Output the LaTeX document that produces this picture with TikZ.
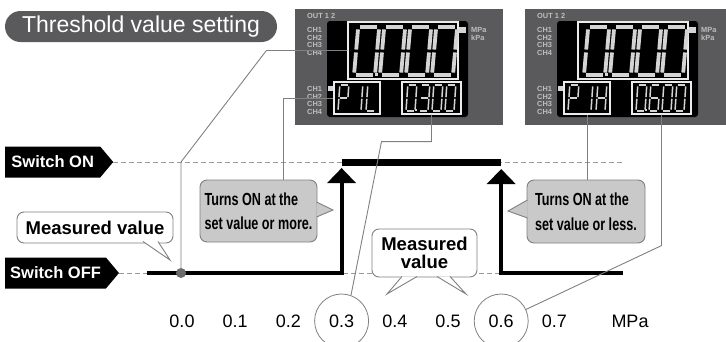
\documentclass[tikz,border=0pt]{standalone}
\usepackage{fontspec}
\setmainfont{Liberation Sans}
\newfontfamily\narrowfont[FakeStretch=0.72]{Liberation Sans}
\usetikzlibrary{arrows.meta,shapes.symbols}
\definecolor{panelgray}{HTML}{5A5A5C}
\definecolor{chgray}{HTML}{BEBEBE}
\definecolor{leadgray}{HTML}{808080}
\definecolor{boxgray}{HTML}{C9C9C9}
\definecolor{seggray}{HTML}{D4D4D4}
\tikzset{
  titlebox/.style  = {fill=panelgray,text=white,font=\fontsize{23}{27}\selectfont,
                      minimum width=272,minimum height=31,rounded corners=15.5,inner sep=0},
  swtag/.style     = {signal,signal to=east,signal pointer angle=100,fill=black,text=white,
                      font=\fontsize{16.5}{18}\selectfont\bfseries,minimum height=31,minimum width=108,inner xsep=5},
  level/.style     = {gray!80,dash pattern=on 5pt off 3pt,line width=0.8},
  sigline/.style   = {line width=4,line cap=butt,line join=miter},
  sigarr/.style    = {sigline,-{Triangle[length=15pt,width=28pt]}},
  lead/.style      = {leadgray,line width=0.9},
  callline/.style  = {draw=leadgray,line width=0.9},
  callw/.style     = {callline,fill=white,rounded corners=7,inner sep=0,align=center,
                      font=\fontsize{18.5}{17.5}\selectfont\bfseries},
  callg/.style     = {callline,fill=boxgray,rounded corners=7,inner sep=0,align=left,
                      font=\narrowfont\bfseries\fontsize{17.5}{24.5}\selectfont},
  ticklab/.style   = {font=\fontsize{18}{20}\selectfont,inner sep=0},
  tickring/.style  = {ticklab,circle,draw=leadgray,line width=0.8,minimum size=54},
  lcdbox/.style    = {draw=white!92!black,line width=1.2,inner sep=0},
  chlab/.style     = {text=chgray,font=\fontsize{7.4}{7.5}\selectfont\bfseries,inner sep=0,anchor=west},
  segstroke/.style = {seggray,line width=#1,line cap=butt},
  dot/.style       = {circle,fill=gray!85!black,minimum size=10,inner sep=0}
}
\newcommand{\sega}{0.09,0,0.91,0}
\newcommand{\segb}{1,0.05,1,0.47}
\newcommand{\segc}{1,0.53,1,0.95}
\newcommand{\segd}{0.09,1,0.91,1}
\newcommand{\sege}{0,0.53,0,0.95}
\newcommand{\segf}{0,0.05,0,0.47}
\newcommand{\segg}{0.09,0.5,0.91,0.5}
\newcommand{\drawseg}{}
\def\drawseg#1,#2,#3,#4\relax#5{\draw[segstroke=#5] ({#1+0.2*(1-#2)},#2) -- ({#3+0.2*(1-#4)},#4);}
\newcommand{\lcddigit}[6]{%
  \begin{scope}[shift={(#1,#2)},xscale=#3,yscale=#4]
    \foreach \s in {#6}{%
      \edef\segcoords{\csname seg\s\endcsname}%
      \expandafter\drawseg\segcoords\relax{#5}}
  \end{scope}}
\newcommand{\lcdpanel}[4]{%
  \begin{scope}[xshift=#2]
    \fill[panelgray] (295,9) rectangle (503,125);
    \fill[black,rounded corners=3] (327,21) rectangle (468,117);
    \node[lcdbox,minimum width=110,minimum height=57] (#1up)  at (403,50.5) {};
    \node[lcdbox,minimum width=46,minimum height=32]  (#1lo)  at (357,98) {};
    \node[lcdbox,minimum width=59,minimum height=32]  (#1val) at (431.5,98) {};
    \fill[seggray] (459,27) rectangle (466,33);
    \fill[seggray] (328,86) rectangle (333,91);
    \node[chlab] at (307,16) {OUT 1 2};
    \foreach \c in {1,2,3,4}{
      \node[chlab] at (307,22.5+7.5*\c) {CH\c};
      \node[chlab] at (307,81.5+7.5*\c) {CH\c};
    }
    \node[chlab] at (471,30) {MPa};
    \node[chlab] at (471,38) {kPa};
    \foreach \x in {354,380,406,432}
      \lcddigit{\x}{27}{21}{48}{3.8}{a,b,c,d,e,f}
    \fill[seggray] (374.5,73) rectangle ++(3,3);
    #3
    #4
  \end{scope}}
\newcommand{\calltail}[4]{%
  \fill[#1] #2 -- #3 -- #4 -- cycle;
  \draw[lead] #2 -- #3 -- #4;}

\begin{document}
\begin{tikzpicture}[x=1pt,y=-1pt]
  \useasboundingbox (0,0) rectangle (726,341);
  \clip (0,0) rectangle (726,341);
  \node[titlebox] (title) at (141,26.5) {Threshold value setting};

  \lcdpanel{L}{0}
    {\lcddigit{338}{85}{9}{26}{1.5}{a,b,e,f,g}
     \lcddigit{352}{85}{9}{26}{1.5}{b,c}
     \lcddigit{366}{85}{9}{26}{1.5}{d,e,f}}
    {\lcddigit{406}{85}{9}{26}{1.5}{a,b,c,d,e,f}
     \fill[seggray] (415,109) rectangle ++(2,2);
     \lcddigit{419}{85}{9}{26}{1.5}{a,b,c,d,g}
     \lcddigit{432}{85}{9}{26}{1.5}{a,b,c,d,e,f}
     \lcddigit{445}{85}{9}{26}{1.5}{a,b,c,d,e,f}}
  \lcdpanel{R}{230}
    {\lcddigit{338}{85}{9}{26}{1.5}{a,b,e,f,g}
     \lcddigit{352}{85}{9}{26}{1.5}{b,c}
     \lcddigit{366}{85}{9}{26}{1.5}{b,c,e,f,g}}
    {\lcddigit{406}{85}{9}{26}{1.5}{a,b,c,d,e,f}
     \fill[seggray] (415,109) rectangle ++(2,2);
     \lcddigit{419}{85}{9}{26}{1.5}{a,c,d,e,f,g}
     \lcddigit{432}{85}{9}{26}{1.5}{a,b,c,d,e,f}
     \lcddigit{445}{85}{9}{26}{1.5}{a,b,c,d,e,f}}

  \node[swtag,anchor=west] (swon)  at (5,162) {Switch ON};
  \node[swtag,anchor=west] (swoff) at (5,273) {Switch OFF};
  \coordinate (onend)    at (623,162);
  \coordinate (offend)   at (623,273);
  \coordinate (offstart) at (147,273);
  \draw[level] (swon.east)  -- (onend);
  \draw[level] (swoff.east) -- (offend);

  \foreach \i/\v in {0/0.0,1/0.1,2/0.2,4/0.4,5/0.5,7/0.7}
    \node[ticklab] (t\i) at ({182+53.2*\i},321) {\v};
  \node[tickring] (t3) at ({182+53.2*3},321) {0.3};
  \node[tickring] (t6) at ({182+53.2*6},321) {0.6};
  \node[ticklab]  (unit) at (630,321) {MPa};

  \draw[sigarr] (offstart) -- (t3 |- swoff.east) -- ++(0,-105);
  \draw[line width=7] (t3 |- swon.east) -- (t6 |- swon.east);
  \draw[sigarr] (offend) -- (t6 |- swoff.east) -- ++(0,-104);

  \node[callw,minimum width=156,minimum height=31] (mvleft) at (95,227.5) {Measured value};
  \node[callg,minimum width=117,minimum height=62] (more) at (258.5,211) {Turns ON at the\\set value or more.};
  \node[callg,minimum width=118,minimum height=63] (less) at (586,211.5) {Turns ON at the\\set value or less.};
  \node[callw,minimum width=105,minimum height=48] (mvmid) at (424.5,253) {Measured\\value};
  \calltail{white}{(143,241.5)}{(170,260)}{(158,241.5)}
  \calltail{boxgray}{(316.5,202)}{(333,210)}{(316.5,217)}
  \calltail{boxgray}{(527.5,200)}{(508,211)}{(527.5,218)}
  \calltail{white}{(402,276.5)}{(387,294)}{(417,276.5)}
  \calltail{white}{(437,276.5)}{(466,294)}{(450,276.5)}

  \node[dot] (mdot) at (181,273) {};
  \coordinate (moretop) at (283,180);
  \draw[lead] (Lup.west) -- ++(-81,0) -- (mdot |- swon.east) -- (mdot);
  \draw[lead] (Llo.west) -| (moretop);
  \draw[lead] (Lval.south) -- ++(0,27) -- ++(-50,0) -- (t3.70);
  \draw[lead] (Rlo.south) -- (Rlo.south |- less.north);
  \draw[lead] (Rval.south) -- ++(0,131) -- (t6.25);
\end{tikzpicture}
\end{document}
